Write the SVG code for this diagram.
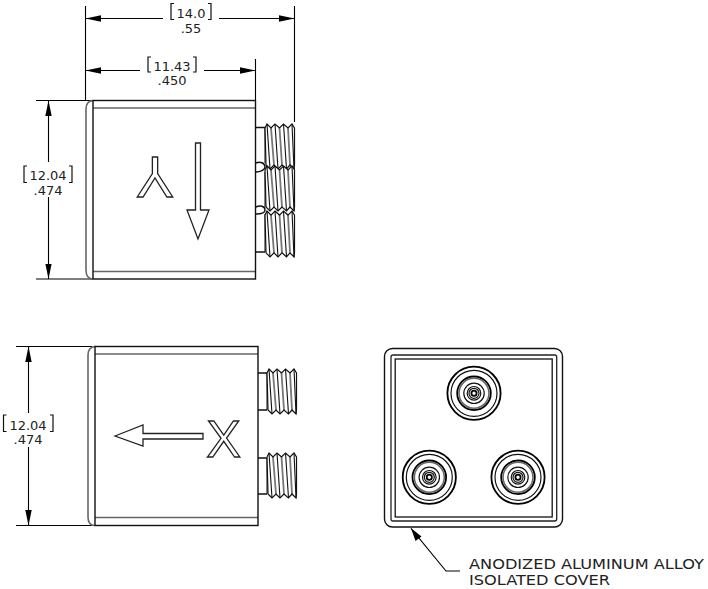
<svg xmlns="http://www.w3.org/2000/svg" width="708" height="589" viewBox="0 0 708 589">
<style>
.o{fill:none;stroke:#111;stroke-width:1.4}
.g{fill:none;stroke:#666;stroke-width:1.6}
.d{fill:none;stroke:#000;stroke-width:1.1}
.b{fill:none;stroke:#111;stroke-width:1.2}
.t{font-family:"DejaVu Sans",Verdana,sans-serif;font-size:13px;fill:#222;text-anchor:middle}
.n{font-family:"DejaVu Sans",Verdana,sans-serif;font-size:13.8px;fill:#222}
.s{font-family:"Liberation Sans",Arial,sans-serif;fill:#fff;stroke:#222;stroke-width:1.3;text-anchor:middle}
.c{fill:none;stroke:#111;stroke-width:1.2}
.cb{fill:none;stroke:#000;stroke-width:1.8}
</style>
<defs>
<marker id="ah" markerUnits="userSpaceOnUse" markerWidth="16" markerHeight="8" refX="15.5" refY="4" orient="auto-start-reverse"><path d="M0 .8L15.500 4L0 7.200Z" fill="#000"/></marker>
<g id="thread">
<path d="M0 4L2 0L6 4L10 0L14.500 4L18.500 0L23 4L27 0L29.500 4V41L29 45L25 41L21.500 45L17 41L13 45L9 41L5 45L1 41Z" fill="#fff" stroke="none"/>
<path d="M6 4L9 41M14.500 4L17 41M23 4L25 41" stroke="#777" stroke-width="1.8" fill="none"/>
<path d="M2 0L5 45M10 0L13 45M18.500 0L21.500 45M27 0L29 45" stroke="#111" stroke-width="1.1" fill="none"/>
<path d="M0 4L2 0L6 4L10 0L14.500 4L18.500 0L23 4L27 0L29.500 4V41L29 45L25 41L21.500 45L17 41L13 45L9 41L5 45L1 41L0 4" stroke="#111" stroke-width="1.2" fill="none"/>
</g>
<g id="port">
<circle r="26.600" class="cb"/><circle r="23" class="c"/><circle r="16.800" class="cb"/><circle r="15" class="g"/><circle r="10.200" class="c"/><circle r="6.800" class="c"/><circle r="5" class="c"/><circle r="2.600" class="cb"/>
</g>
</defs>

<g id="connectors">
<path class="d" d="M85.500 6V100M294.500 6V122M255.500 59V100"/>
<path class="d" d="M85.500 18.500H163" marker-start="url(#ah)"/>
<path class="d" d="M219 18.500H294.500" marker-end="url(#ah)"/>
<path class="d" d="M85.500 70.500H140" marker-start="url(#ah)"/>
<path class="d" d="M204 70.500H255.500" marker-end="url(#ah)"/>
<path class="d" d="M36 100.500H92M36 279H92"/>
<path class="d" d="M48.500 100.500V162" marker-start="url(#ah)"/>
<path class="d" d="M48.500 197V279" marker-end="url(#ah)"/>
<path class="d" d="M16 346.500H92M16 525.500H92"/>
<path class="d" d="M28.500 346.500V413" marker-start="url(#ah)"/>
<path class="d" d="M28.500 447V525.500" marker-end="url(#ah)"/>
<path class="d" d="M411 528.300L446 571H460"/>
<path d="M411 528.300L421.500 536.500L415.500 541Z" fill="#000"/>
</g>

<g id="dim-overall">
<path class="b" d="M174 3.500H171V19.500H174M208 3.500H211V19.500H208"/>
<text class="t" x="191" y="17.500">14.0</text><text class="t" x="191" y="33">.55</text>
</g>
<g id="dim-body">
<path class="b" d="M151 57H148V72H151M193 57H196V72H193"/>
<text class="t" x="172" y="70.500">11.43</text><text class="t" x="172" y="85">.450</text>
</g>
<g id="dim-height-top">
<path class="b" d="M27 166H24V182.500H27M69 166H72V182.500H69"/>
<text class="t" x="48" y="179.500">12.04</text><text class="t" x="48" y="195">.474</text>
</g>
<g id="dim-height-side">
<path class="b" d="M6.500 415H3.500V431.500H6.500M50 415H53V431.500H50"/>
<text class="t" x="28" y="429.500">12.04</text><text class="t" x="28" y="443.500">.474</text>
</g>

<g id="view-top">
<path class="g" d="M93 108H255.500M93 271.500H255.500"/>
<path class="g" d="M93 100.500C88 101 86 104 86 109V270C86 275 88 279 93 279"/>
<rect class="o" x="93" y="100.500" width="162.500" height="178.500"/>
<path class="g" d="M265 127.500V163M265 172V207M265 214V252"/>
<path class="o" d="M256 127.500H265M256 163C260 161 265 163 265 167C265 170 260 172 256 172M256 207C260 205 265 206 265 210C265 213 260 214 256 214M256 252H265"/>
<use href="#thread" x="265" y="124"/>
<use href="#thread" x="265" y="166"/>
<use href="#thread" transform="translate(265 211) scale(1 1.02)"/>
<text class="s" font-size="57" transform="translate(155 157) rotate(180)">Y</text>
<path d="M195.500 143H200.500V210H209L198 239L187 210H195.500Z" fill="#fff" stroke="#222" stroke-width="1.3"/>
</g>

<g id="view-side">
<path class="g" d="M95 354H258M95 517.500H258"/>
<path class="g" d="M95 346.500C90 347 88 350 88 355V517C88 522 90 525.500 95 525.500"/>
<rect class="o" x="95" y="346.500" width="163" height="179"/>
<path class="g" d="M267 373V410M267 458V494"/>
<path class="o" d="M258 373H267M258 410H267M258 458H267M258 494H267"/>
<use href="#thread" x="267" y="369"/>
<use href="#thread" x="267" y="453"/>
<path d="M115 436L143 425V433.500H203V439H143V446Z" fill="#fff" stroke="#222" stroke-width="1.3"/>
<text class="s" font-size="52" x="223.500" y="456.500">X</text>
</g>

<g id="view-end">
<rect class="o" x="384.500" y="348.500" width="178" height="178.500" rx="8"/>
<rect x="391" y="355" width="165.700" height="166" rx="2" fill="none" stroke="#222" stroke-width="1.300"/>
<rect x="395.200" y="359" width="157" height="158" fill="none" stroke="#111" stroke-width="1.300"/>
<use href="#port" x="474" y="393.300"/>
<use href="#port" x="429.300" y="477.300"/>
<use href="#port" x="518" y="477.300"/>
</g>

<g id="callout">
<text class="n" x="469" y="568.500" textLength="235" lengthAdjust="spacingAndGlyphs">ANODIZED ALUMINUM ALLOY</text>
<text class="n" x="469" y="585" textLength="141" lengthAdjust="spacingAndGlyphs">ISOLATED COVER</text>
</g>
</svg>
